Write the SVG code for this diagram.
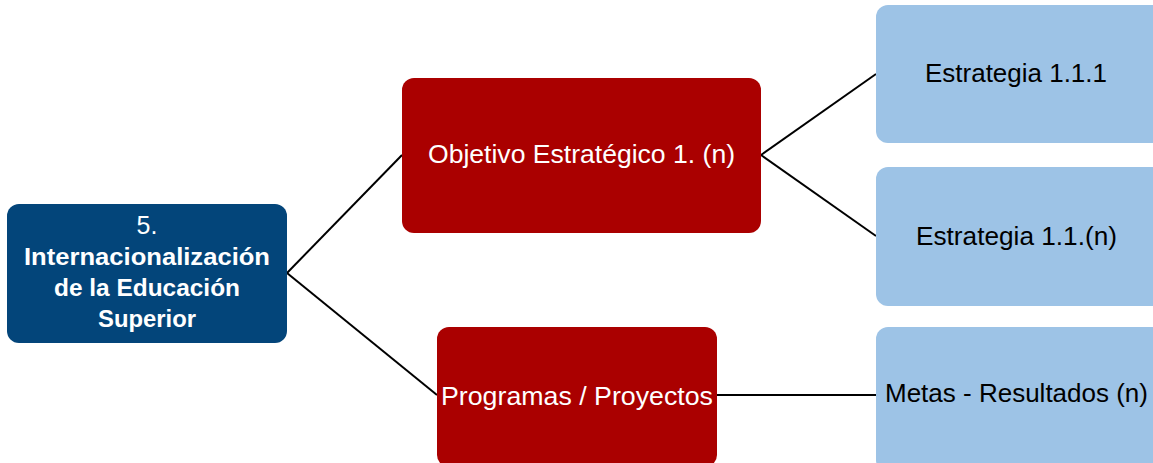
<svg xmlns="http://www.w3.org/2000/svg" width="1153" height="463" viewBox="0 0 1153 463">
<style>
.lbl{font-family:"Liberation Sans",Arial,sans-serif;font-size:25px;text-anchor:middle}
.w{fill:#ffffff}
.k{fill:#000000}
.b{font-weight:bold;font-size:24px}
.navy{fill:#03457A}
.red{fill:#AA0000}
.blue{fill:#9DC3E6}
.conn{stroke:#000;stroke-width:2;fill:none}
</style>
<rect width="1153" height="463" fill="#ffffff"/>
<g id="connectors">
<path class="conn" d="M287,273 L402,155"/>
<path class="conn" d="M287,273 L437,395"/>
<path class="conn" d="M761,155 L876,74"/>
<path class="conn" d="M761,155 L876,236"/>
<path class="conn" d="M717,395 L876,395"/>
</g>
<g id="node-root">
<rect class="navy" x="7" y="204" width="280" height="139" rx="12"/>
<text class="lbl w" x="147" y="234" font-size="24">5.</text>
<text class="lbl w b" x="147" y="265" textLength="246" lengthAdjust="spacingAndGlyphs">Internacionalización</text>
<text class="lbl w b" x="147" y="296" textLength="186" lengthAdjust="spacingAndGlyphs">de la Educación</text>
<text class="lbl w b" x="147" y="327" textLength="98" lengthAdjust="spacingAndGlyphs">Superior</text>
</g>
<g id="node-objetivo">
<rect class="red" x="402" y="78" width="359" height="155" rx="12"/>
<text class="lbl w" x="581.5" y="163" textLength="307" lengthAdjust="spacingAndGlyphs">Objetivo Estratégico 1. (n)</text>
</g>
<g id="node-programas">
<rect class="red" x="437" y="327" width="280" height="140" rx="12"/>
<text class="lbl w" x="577" y="405" textLength="272" lengthAdjust="spacingAndGlyphs">Programas / Proyectos</text>
</g>
<g id="node-estrategia1">
<rect class="blue" x="876" y="5" width="290" height="138" rx="12"/>
<text class="lbl k" x="1016" y="82" textLength="182" lengthAdjust="spacingAndGlyphs">Estrategia 1.1.1</text>
</g>
<g id="node-estrategian">
<rect class="blue" x="876" y="167" width="290" height="139" rx="12"/>
<text class="lbl k" x="1016.5" y="245" textLength="201" lengthAdjust="spacingAndGlyphs">Estrategia 1.1.(n)</text>
</g>
<g id="node-metas">
<rect class="blue" x="876" y="327" width="290" height="145" rx="12"/>
<text class="lbl k" x="1016.5" y="402" textLength="263" lengthAdjust="spacingAndGlyphs">Metas - Resultados (n)</text>
</g>
</svg>
